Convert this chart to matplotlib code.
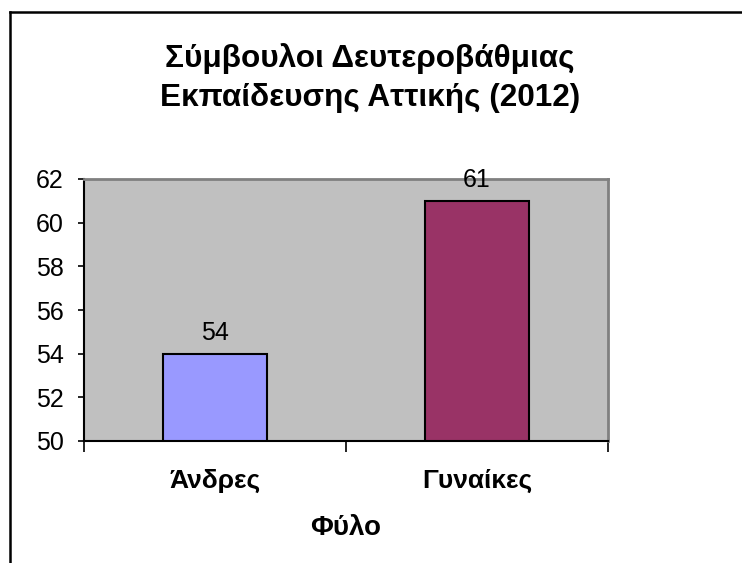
import matplotlib.pyplot as plt
from matplotlib.lines import Line2D

# data
CATEGORIES = ["Άνδρες", "Γυναίκες"]
VALUES = [54, 61]
COLORS = ["#9999FF", "#993366"]
YTICKS = [50, 52, 54, 56, 58, 60, 62]
TITLE = "Σύμβουλοι Δευτεροβάθμιας\nΕκπαίδευσης Αττικής (2012)"
XLABEL = "Φύλο"

plt.rcParams["font.family"] = ["Liberation Sans", "DejaVu Sans"]

fig = plt.figure(figsize=(7.42, 5.63), dpi=100)
ax = fig.add_axes([84 / 742, 1 - 441 / 563, 524 / 742, 262 / 563])

ax.set_facecolor("#C0C0C0")
x = range(len(CATEGORIES))
bars = ax.bar(x, VALUES, width=0.4, color=COLORS, edgecolor="black", linewidth=1.5, zorder=2)

for b, v in zip(bars, VALUES):
    ax.annotate(str(v), (b.get_x() + b.get_width() / 2, v), xytext=(0, 6),
                textcoords="offset points", ha="center", va="bottom", fontsize=18, zorder=3)

ax.set_xlim(-0.5, 1.5)
ax.set_ylim(50, 62)
ax.set_yticks(YTICKS)
ax.tick_params(axis="y", labelsize=18, length=4.5, width=1.2, direction="out", pad=10)
ax.set_xticks([-0.5, 0.5, 1.5])
ax.set_xticklabels([])
ax.tick_params(axis="x", length=8, width=1.2, direction="out")
ax.set_xticks(list(x), minor=True)
ax.set_xticklabels(CATEGORIES, minor=True, fontsize=19, fontweight="bold")
ax.tick_params(axis="x", which="minor", length=0, pad=20)

for s in ["left", "bottom"]:
    ax.spines[s].set_color("black")
    ax.spines[s].set_linewidth(1.5)
for s in ["top", "right"]:
    ax.spines[s].set_color("#808080")
    ax.spines[s].set_linewidth(2)

ax.set_xlabel(XLABEL, fontsize=20, fontweight="bold", labelpad=16)

fig.text(370 / 742, 1 - 78 / 563, TITLE, ha="center", va="center",
         fontsize=22.7, fontweight="bold", linespacing=1.42)

# outer chart border (only top and left fall inside the picture)
fig.add_artist(Line2D([10 / 742, 10 / 742], [0, 1 - 12 / 563], color="black", linewidth=1.8))
fig.add_artist(Line2D([10 / 742, 1], [1 - 12 / 563, 1 - 12 / 563], color="black", linewidth=1.8))

fig.savefig("out.png", dpi=100)
